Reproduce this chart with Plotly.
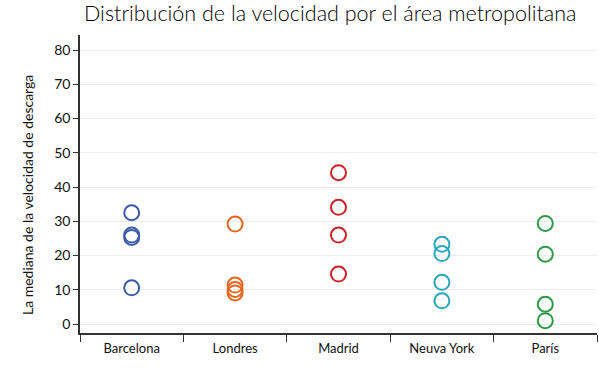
import plotly.graph_objects as go

cities = ["Barcelona", "Londres", "Madrid", "Neuva York", "París"]
barcelona = [32.5, 26.0, 25.3, 10.6]
londres = [29.2, 11.4, 10.1, 9.1]
madrid = [44.2, 34.1, 26.0, 14.6]
nueva_york = [23.3, 20.6, 12.2, 6.8]
paris = [29.4, 20.4, 5.8, 1.0]
series = [barcelona, londres, madrid, nueva_york, paris]
colors = ["#3c5ca8", "#e8661f", "#cc2027", "#2ba6bb", "#2f9a45"]
y_ticks = [0, 10, 20, 30, 40, 50, 60, 70, 80]

fig = go.Figure()
for city, vals, col in zip(cities, series, colors):
    fig.add_trace(go.Scatter(
        x=[city] * len(vals), y=vals, mode="markers",
        marker=dict(symbol="circle-open", size=15, color=col, line=dict(width=2, color=col)),
        showlegend=False, name=city, hoverinfo="skip",
    ))

fig.update_layout(
    width=599, height=368,
    margin=dict(l=80, r=2, t=35, b=35),
    paper_bgcolor="white", plot_bgcolor="white",
    font=dict(family="Lato", size=12, color="#222"),
    title=dict(text="Distribución de la velocidad por el área metropolitana",
               x=0.484, xref="paper", xanchor="center", y=1 - 13 / 368, yref="container",
               yanchor="middle",
               font=dict(size=21.5, color="#000", weight=300)),
    annotations=[dict(
        text="La mediana de la velocidad de descarga", textangle=-90,
        xref="paper", yref="paper", x=-0.1025, y=0.463,
        xanchor="center", yanchor="middle", showarrow=False,
        font=dict(size=14, color="#111"),
    )],
)
fig.update_xaxes(
    categoryorder="array", categoryarray=cities,
    range=[-0.5, 4.5], tickson="boundaries", ticks="outside", ticklen=7,
    tickcolor="#333", showline=True, linecolor="#333", linewidth=1.5,
    showgrid=False, zeroline=False, tickfont=dict(size=13, color="#111"), ticklabelstandoff=3,
)
fig.update_yaxes(
    range=[-2.6, 84.4], tickvals=y_ticks, ticks="outside", ticklen=5,
    tickcolor="#333", showline=True, linecolor="#333", linewidth=1.5,
    showgrid=True, gridcolor="#ececec", gridwidth=1, zeroline=False,
    tickfont=dict(size=14, color="#111"),
)
fig.write_html("out.html", config={"displayModeBar": False},
               post_script="document.body.style.margin='0';")
